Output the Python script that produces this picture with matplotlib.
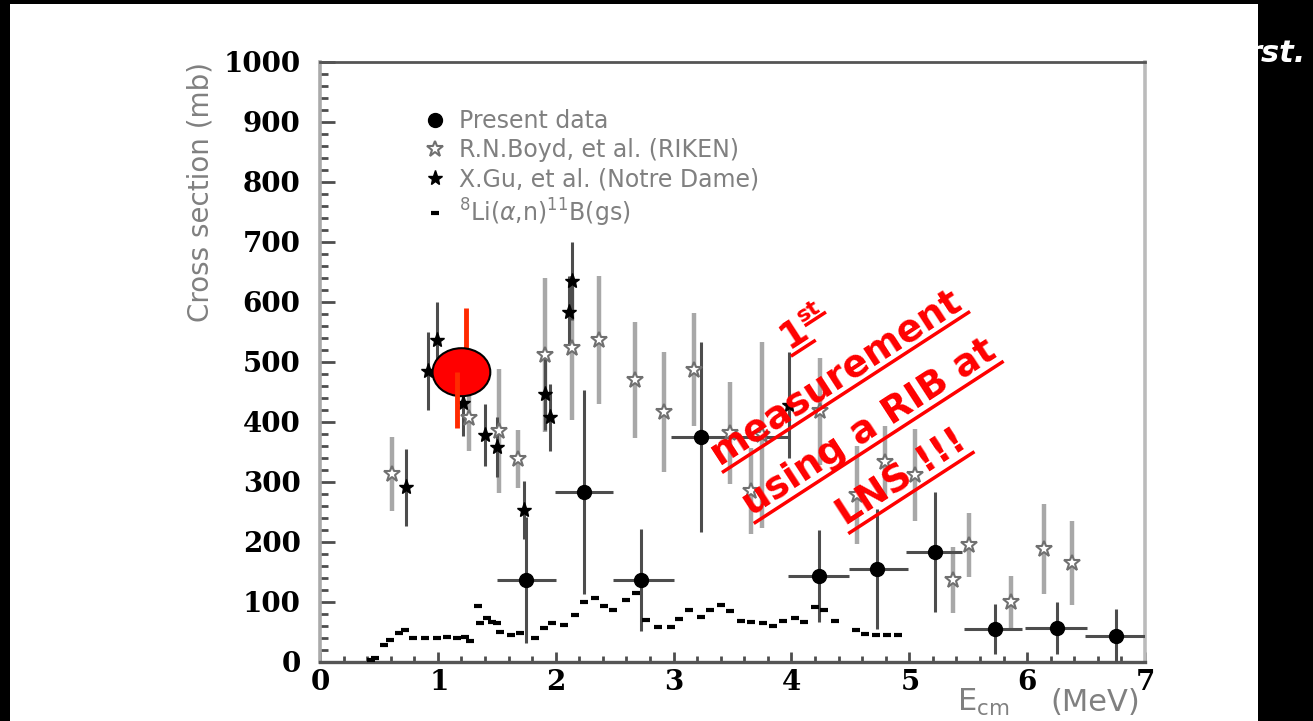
import numpy as np
import matplotlib
matplotlib.use("Agg")
import matplotlib.pyplot as plt
from matplotlib.patches import Ellipse, Rectangle
from matplotlib.lines import Line2D
from matplotlib.ticker import MultipleLocator
from matplotlib.font_manager import FontProperties
from matplotlib.transforms import IdentityTransform

plt.rcParams["mathtext.fontset"] = "custom"
plt.rcParams["mathtext.bf"] = "DejaVu Serif:bold"

# present data: energy (MeV), bin half widths, cross section (mb) and error
present_E = [1.75, 2.24, 2.72, 3.23, 4.23, 4.73, 5.22, 5.73, 6.25, 6.75]
present_dE_lo = [0.25, 0.25, 0.23, 0.25, 0.26, 0.24, 0.25, 0.27, 0.27, 0.26]
present_dE_hi = [0.25, 0.25, 0.28, 0.75, 0.26, 0.26, 0.23, 0.23, 0.26, 0.25]
present_sigma = [137, 283, 137, 375, 143, 155, 183, 55, 57, 43]
present_err = [105, 170, 85, 158, 77, 100, 100, 42, 43, 45]

# R.N.Boyd et al. (RIKEN)
boyd_E = [0.61, 1.26, 1.52, 1.68, 1.91, 2.14, 2.37, 2.67, 2.92, 3.17, 3.48,
          3.66, 3.75, 4.24, 4.56, 4.79, 5.05, 5.37, 5.51, 5.86, 6.14, 6.38]
boyd_sigma = [313, 407, 385, 338, 512, 523, 537, 470, 417, 487, 382,
              285, 378, 418, 278, 333, 312, 137, 195, 100, 188, 165]
boyd_err = [62, 55, 103, 48, 128, 120, 107, 96, 100, 94, 85,
            72, 155, 89, 82, 60, 77, 55, 53, 43, 75, 70]

# X.Gu et al. (Notre Dame)
gu_E = [0.73, 0.92, 0.99, 1.21, 1.40, 1.50, 1.73, 1.91, 1.95, 2.11, 2.14, 3.98]
gu_sigma = [291, 485, 537, 431, 378, 358, 253, 447, 408, 583, 635, 428]
gu_err = [64, 65, 63, 55, 52, 50, 48, 60, 56, 60, 65, 88]

# 8Li(a,n)11B(gs) partial cross section
gs_E = [0.43, 0.47, 0.54, 0.59, 0.67, 0.72, 0.79, 0.89, 0.99, 1.08, 1.16, 1.23,
        1.27, 1.34, 1.36, 1.42, 1.46, 1.50, 1.53, 1.62, 1.70, 1.82, 1.90, 1.97,
        2.07, 2.16, 2.24, 2.33, 2.41, 2.49, 2.60, 2.68, 2.77, 2.87, 2.98, 3.05,
        3.13, 3.23, 3.31, 3.40, 3.48, 3.57, 3.66, 3.76, 3.84, 3.93, 4.03, 4.11,
        4.20, 4.28, 4.37, 4.55, 4.62, 4.72, 4.81, 4.90]
gs_sigma = [3, 6, 28, 37, 48, 53, 40, 40, 40, 42, 40, 42,
            35, 93, 65, 73, 67, 65, 50, 45, 48, 40, 57, 65,
            62, 78, 100, 107, 93, 87, 103, 115, 70, 58, 58, 72,
            87, 75, 87, 95, 85, 68, 67, 65, 60, 68, 73, 67,
            92, 87, 68, 53, 47, 45, 45, 45]

# RIB point
rib_E = 1.20
rib_sigma = 483
rib_err_hi = 107
rib_err_lo = 93

x_ticks = list(range(0, 8))
y_ticks = list(range(0, 1001, 100))

W, H = 1313, 721
fig = plt.figure(figsize=(W / 100, H / 100), dpi=100, facecolor="black")

# white slide panel, with the slide title peeking out behind it
fig.text(1246 / W, 1 - 62 / H, "rst.", color="white", fontsize=22,
         fontweight="bold", style="italic", ha="left", va="baseline", zorder=-2)
fig.patches.append(Rectangle((10 / W, 0), 1248 / W, 717 / H, transform=fig.transFigure,
                             facecolor="white", edgecolor="none", zorder=-1))

ax = fig.add_axes([320 / W, 59 / H, 825 / W, 600 / H])
ax.set_facecolor("white")

dark = "#4d4d4d"
light = "#a8a8a8"

ax.errorbar(boyd_E, boyd_sigma, yerr=boyd_err, fmt="none", ecolor=light,
            elinewidth=3.2, capsize=0, zorder=2)
ax.errorbar(gu_E, gu_sigma, yerr=gu_err, fmt="none", ecolor=dark,
            elinewidth=2.2, capsize=0, zorder=2)
ax.errorbar(present_E, present_sigma, yerr=present_err,
            xerr=[present_dE_lo, present_dE_hi], fmt="none", ecolor=dark,
            elinewidth=2.2, capsize=0, zorder=3)

ax.plot(present_E, present_sigma, "o", color="black", ms=10, zorder=4,
        label="Present data")
ax.plot(boyd_E, boyd_sigma, "*", color="#8a8a8a", mfc="white", mec="#707070",
        mew=1.5, ms=12, zorder=4, label="R.N.Boyd, et al. (RIKEN)")
ax.plot(gu_E, gu_sigma, "*", color="black", ms=11, zorder=4,
        label="X.Gu, et al. (Notre Dame)")
ax.plot(gs_E, gs_sigma, "_", color="black", ms=6, mew=3, zorder=4,
        label=r"$^{8}$Li($\alpha$,n)$^{11}$B(gs)")

# hand-drawn RIB point
red_bar = "#ff2a00"
ax.plot([rib_E + 0.035, rib_E + 0.035], [rib_sigma, rib_sigma + rib_err_hi],
        color=red_bar, lw=3.5, solid_capstyle="butt", zorder=5)
ax.add_patch(Ellipse((rib_E, rib_sigma), 0.49, 80, facecolor="#ff0000",
                     edgecolor="black", lw=1.5, zorder=6))
ax.plot([rib_E - 0.035, rib_E - 0.035], [rib_sigma, rib_sigma - rib_err_lo],
        color=red_bar, lw=3.5, solid_capstyle="butt", zorder=7)

ax.set_xlim(0, 7)
ax.set_ylim(0, 1000)
ax.set_xticks(x_ticks, [r"$\mathbf{%d}$" % v for v in x_ticks])
ax.set_yticks(y_ticks)
ax.xaxis.set_minor_locator(MultipleLocator(0.2))
ax.yaxis.set_minor_locator(MultipleLocator(20))
ax.tick_params(axis="y", which="major", direction="in", length=11, width=2,
               color=dark, pad=14, labelsize=20)
ax.tick_params(axis="y", which="minor", direction="in", length=6, width=2,
               color=dark)
ax.tick_params(axis="x", which="major", direction="in", length=7, width=2,
               color=dark, pad=4, labelsize=20)
ax.tick_params(axis="x", which="minor", direction="in", length=4, width=2,
               color=dark)
for lab in ax.get_yticklabels():
    lab.set_fontfamily("DejaVu Serif")
    lab.set_fontweight("bold")

ax.spines["left"].set_color("#aaaaaa")
ax.spines["left"].set_linewidth(2.6)
ax.spines["bottom"].set_color("#555555")
ax.spines["bottom"].set_linewidth(2.4)
ax.spines["top"].set_color("#555555")
ax.spines["top"].set_linewidth(2.0)
ax.spines["right"].set_color("#bbbbbb")
ax.spines["right"].set_linewidth(2.6)

leg = ax.legend(loc="upper left", bbox_to_anchor=(0.125, 0.922), frameon=False,
                fontsize=17, labelcolor="#808080", handlelength=1.0,
                handletextpad=0.5, labelspacing=0.22, borderpad=0,
                borderaxespad=0, numpoints=1)

fig.text(200 / W, 1 - 62 / H, "Cross section (mb)", rotation=90, ha="center",
         va="top", fontsize=20, color="#808080")
# x title split around the "6" tick label, ROOT style
fig.text(957 / W, 10 / H, r"E$_{\mathregular{cm}}$", ha="left",
         va="baseline", fontsize=22, color="#808080")
fig.text(1140 / W, 10 / H, "(MeV)", ha="right",
         va="baseline", fontsize=22, color="#808080")

# red note, each line underlined, drawn in pixel space
fig.canvas.draw()
renderer = fig.canvas.get_renderer()
ang = np.deg2rad(33)
u = np.array([np.cos(ang), np.sin(ang)])
n = np.array([-np.sin(ang), np.cos(ang)])
big = FontProperties(family="DejaVu Sans", weight="bold", size=27)
small = FontProperties(family="DejaVu Sans", weight="bold", size=16)
px = IdentityTransform()


def width(s, prop):
    return renderer.get_text_width_height_descent(s, prop, ismath=False)[0]


def underline(p0, p1):
    fig.add_artist(Line2D([p0[0], p1[0]], [p0[1], p1[1]], transform=px,
                          color="red", lw=2.5, zorder=10))


under_mid = np.array([846.0, H - 392.0])
lines = ["1", "measurement", "using a RIB at", "LNS !!!"]
for i, s in enumerate(lines):
    base = under_mid + (i - 1) * 60 * (-n) + 7 * n
    if s == "1":
        w1 = width("1", big)
        w2 = width("st", small)
        start = base - (w1 + w2) / 2 * u
        fig.text(start[0], start[1], "1", fontproperties=big, color="red",
                 rotation=33, rotation_mode="anchor", ha="left", va="baseline",
                 transform=px, zorder=10)
        sup = start + w1 * u + 15 * n
        fig.text(sup[0], sup[1], "st", fontproperties=small, color="red",
                 rotation=33, rotation_mode="anchor", ha="left", va="baseline",
                 transform=px, zorder=10)
        underline(start - 7 * n, start + w1 * u - 7 * n)
        underline(sup + 2 * u - 4 * n, sup + w2 * u - 4 * n)
    else:
        w = width(s, big)
        fig.text(base[0], base[1], s, fontproperties=big, color="red",
                 rotation=33, rotation_mode="anchor", ha="center",
                 va="baseline", transform=px, zorder=10)
        underline(base - w / 2 * u - 7 * n, base + w / 2 * u - 7 * n)

fig.savefig("out.png", dpi=100, facecolor=fig.get_facecolor())
